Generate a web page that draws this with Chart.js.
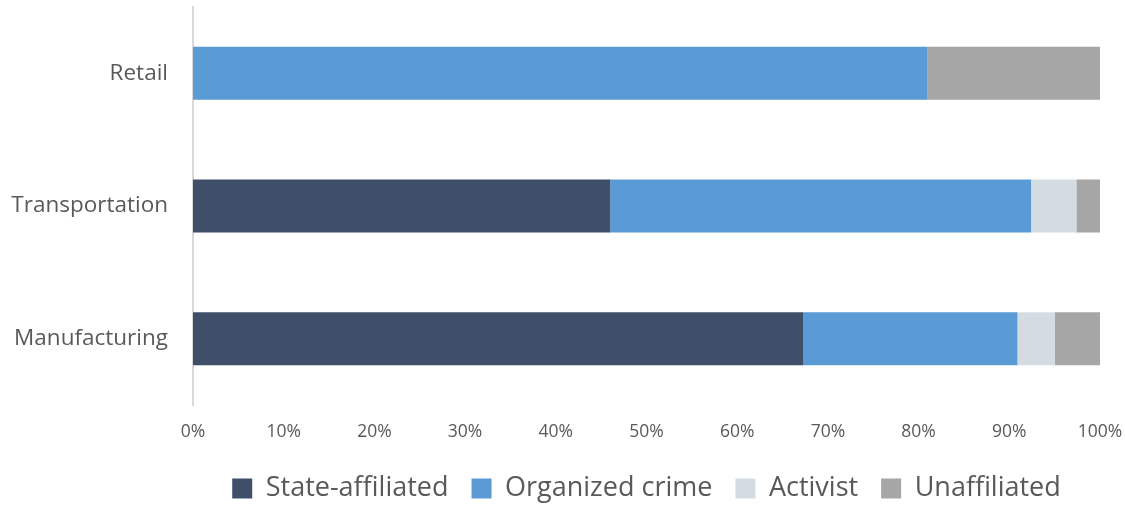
<!DOCTYPE html>
<html>
<head>
<meta charset="utf-8">
<script src="https://cdn.jsdelivr.net/npm/chart.js@4/dist/chart.umd.min.js"></script>
<style>
  html, body { margin: 0; padding: 0; background: #fff; overflow: hidden; }
  #wrap { width: 1125px; height: 512px; }
</style>
</head>
<body>
<div id="wrap"><canvas id="actors"></canvas></div>
<script>
const sectors = ['Retail', 'Transportation', 'Manufacturing'];
const stateAffiliated = [0, 46.0, 67.3];
const organizedCrime = [81.0, 46.4, 23.6];
const activist = [0, 5.0, 4.1];
const unaffiliated = [19.0, 2.6, 5.0];
const pctTicks = [0, 10, 20, 30, 40, 50, 60, 70, 80, 90, 100];

const textGray = '#595959';
const fontFamily = '"Open Sans", sans-serif';

// no automatic edge padding from tick labels, layout.padding decides the plot box
function noScalePadding(axis) {
  axis.paddingTop = 0;
  axis.paddingBottom = 0;
  axis.paddingLeft = 0;
  axis.paddingRight = 0;
}

const ctx = document.getElementById('actors');
const chart = new Chart(ctx, {
  type: 'bar',
  data: {
    labels: sectors,
    datasets: [
      { label: 'State-affiliated', data: stateAffiliated, backgroundColor: '#404f69' },
      { label: 'Organized crime', data: organizedCrime, backgroundColor: '#5a9ad5' },
      { label: 'Activist', data: activist, backgroundColor: '#d4dce2' },
      { label: 'Unaffiliated', data: unaffiliated, backgroundColor: '#a6a6a6' }
    ]
  },
  options: {
    indexAxis: 'y',
    responsive: true,
    maintainAspectRatio: false,
    animation: false,
    datasets: {
      bar: { categoryPercentage: 0.4, barPercentage: 1.0, borderWidth: 0 }
    },
    layout: { padding: { top: 7, left: 0, right: 25, bottom: 0 } },
    scales: {
      x: {
        stacked: true,
        min: 0,
        max: 100,
        afterBuildTicks: (axis) => { axis.ticks = pctTicks.map(v => ({ value: v })); },
        afterFit: (axis) => { noScalePadding(axis); axis.height = 47; },
        grid: { display: false, drawTicks: false },
        border: { display: false },
        ticks: {
          padding: 17,
          maxRotation: 0,
          color: textGray,
          font: { family: fontFamily, size: 17.5 },
          callback: (v) => v + '%'
        }
      },
      y: {
        stacked: true,
        afterFit: (axis) => { noScalePadding(axis); axis.width = 193; },
        grid: { display: false, drawTicks: false },
        border: { display: true, color: '#d9d9d9', width: 2 },
        ticks: {
          padding: 25,
          color: textGray,
          font: { family: fontFamily, size: 22.5 }
        }
      }
    },
    plugins: {
      tooltip: { enabled: false },
      legend: {
        position: 'bottom',
        fullSize: false,
        labels: {
          boxWidth: 20,
          boxHeight: 20,
          padding: 23,
          color: textGray,
          font: { family: fontFamily, size: 27 }
        }
      }
    }
  }
});
</script>
</body>
</html>
